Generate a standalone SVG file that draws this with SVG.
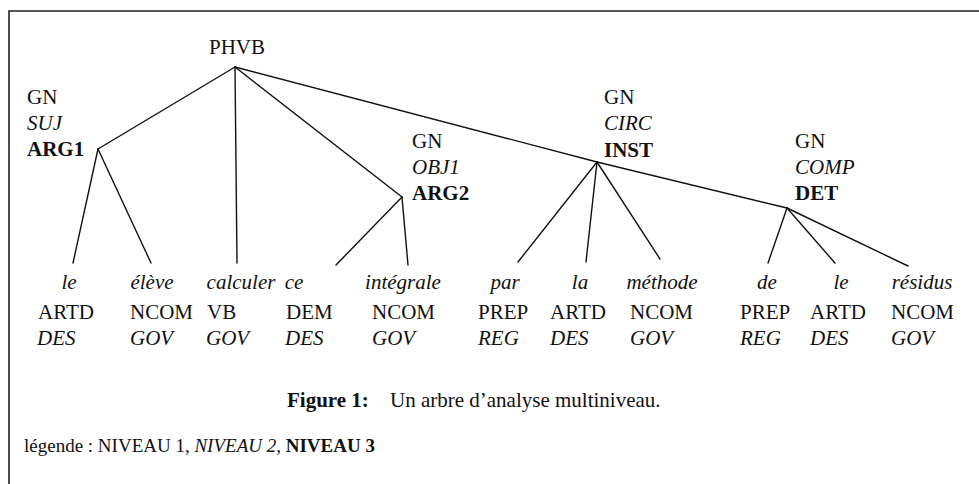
<svg xmlns="http://www.w3.org/2000/svg" width="979" height="484" viewBox="0 0 979 484">
<style>
text{font-family:"Liberation Serif","Times New Roman",serif;font-size:21px;fill:#111}
.i{font-style:italic}
.b{font-weight:bold}
.w{text-anchor:middle;font-style:italic}
.m{text-anchor:middle}
.leg{font-size:19px}
.edge{stroke:#111;stroke-width:1.4;fill:none;stroke-linecap:round}
.frame{stroke:#222;stroke-width:1.6;fill:none}
</style>
<rect width="979" height="484" fill="#fff"/>
<path class="frame" d="M9,484 V11 H979"/>
<g id="connectors">
<line class="edge" x1="235" y1="67" x2="98" y2="149"/>
<line class="edge" x1="235" y1="67" x2="237" y2="263"/>
<line class="edge" x1="235" y1="67" x2="402" y2="197"/>
<line class="edge" x1="235" y1="67" x2="597" y2="162"/>
<line class="edge" x1="597" y1="162" x2="787" y2="208"/>
<line class="edge" x1="98" y1="149" x2="73" y2="263"/>
<line class="edge" x1="98" y1="149" x2="151" y2="263"/>
<line class="edge" x1="402" y1="197" x2="336" y2="265"/>
<line class="edge" x1="402" y1="197" x2="408" y2="265"/>
<line class="edge" x1="597" y1="162" x2="518" y2="262"/>
<line class="edge" x1="597" y1="162" x2="586" y2="262"/>
<line class="edge" x1="597" y1="162" x2="660" y2="259"/>
<line class="edge" x1="787" y1="208" x2="768" y2="263"/>
<line class="edge" x1="787" y1="208" x2="835" y2="263"/>
<line class="edge" x1="787" y1="208" x2="908" y2="266"/>
</g>
<g id="phvb"><text class="m" x="237" y="54">PHVB</text></g>
<g id="arg1"><text x="27" y="104">GN</text><text class="i" x="27" y="130">SUJ</text><text class="b" x="27" y="156">ARG1</text></g>
<g id="arg2"><text x="412" y="148">GN</text><text class="i" x="412" y="174">OBJ1</text><text class="b" x="412" y="200">ARG2</text></g>
<g id="inst"><text x="604" y="104">GN</text><text class="i" x="604" y="130">CIRC</text><text class="b" x="604" y="157">INST</text></g>
<g id="det"><text x="795" y="148">GN</text><text class="i" x="795" y="174">COMP</text><text class="b" x="795" y="200">DET</text></g>
<g id="w-le1"><text class="w" x="69" y="289">le</text><text x="38" y="319">ARTD</text><text class="i" x="37" y="345">DES</text></g>
<g id="w-eleve"><text class="w" x="152" y="289">élève</text><text x="130" y="319">NCOM</text><text class="i" x="130" y="345">GOV</text></g>
<g id="w-calculer"><text class="w" x="241" y="289">calculer</text><text x="207" y="319">VB</text><text class="i" x="206" y="345">GOV</text></g>
<g id="w-ce"><text class="w" x="294" y="289">ce</text><text x="286" y="319">DEM</text><text class="i" x="285" y="345">DES</text></g>
<g id="w-integrale"><text class="w" x="403" y="289">intégrale</text><text x="372" y="319">NCOM</text><text class="i" x="372" y="345">GOV</text></g>
<g id="w-par"><text class="w" x="505" y="289">par</text><text x="478" y="319">PREP</text><text class="i" x="478" y="345">REG</text></g>
<g id="w-la"><text class="w" x="580" y="289">la</text><text x="550" y="319">ARTD</text><text class="i" x="550" y="345">DES</text></g>
<g id="w-methode"><text class="w" x="662" y="289">méthode</text><text x="630" y="319">NCOM</text><text class="i" x="630" y="345">GOV</text></g>
<g id="w-de"><text class="w" x="767" y="289">de</text><text x="740" y="319">PREP</text><text class="i" x="740" y="345">REG</text></g>
<g id="w-le2"><text class="w" x="841" y="289">le</text><text x="810" y="319">ARTD</text><text class="i" x="810" y="345">DES</text></g>
<g id="w-residus"><text class="w" x="922" y="289">résidus</text><text x="891" y="319">NCOM</text><text class="i" x="891" y="345">GOV</text></g>
<g id="caption"><text x="287" y="407"><tspan class="b">Figure 1:</tspan><tspan x="390">Un arbre d’analyse multiniveau.</tspan></text></g>
<g id="legend"><text class="leg" x="24" y="452">légende : NIVEAU 1, <tspan class="i">NIVEAU 2</tspan>, <tspan class="b">NIVEAU 3</tspan></text></g>
</svg>
